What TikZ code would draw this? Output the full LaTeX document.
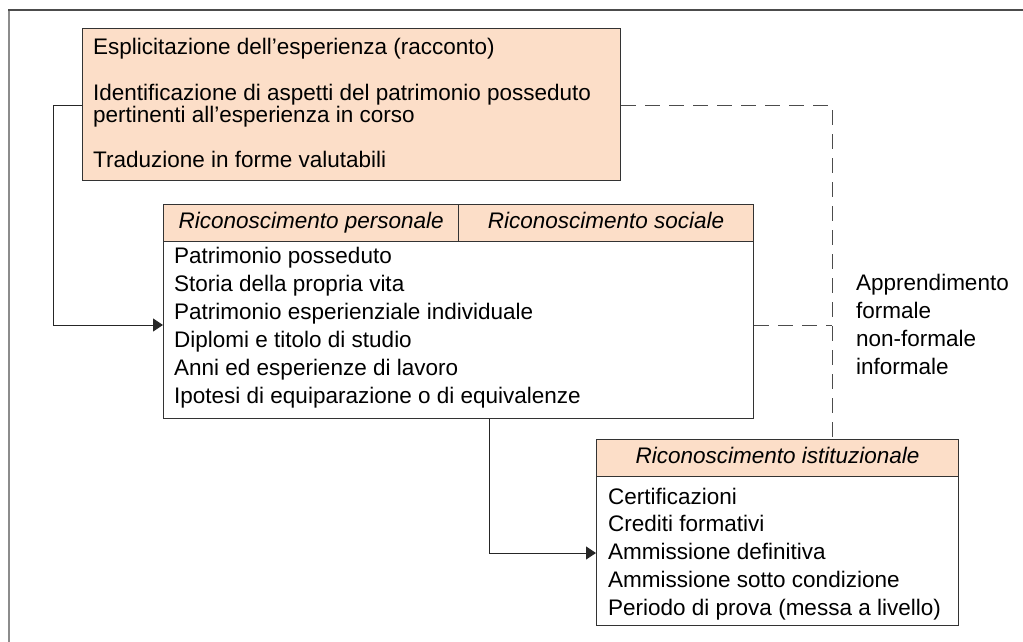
\documentclass[tikz,border=0pt]{standalone}
\usepackage{fontspec}
\setmainfont{Liberation Sans}
\usepackage{xcolor}
\usetikzlibrary{arrows.meta,calc,positioning}
\definecolor{peach}{RGB}{252,222,200}
\newcommand{\listfont}{\fontsize{22.5pt}{28pt}\selectfont}
\tikzset{
  boxfr/.style={draw=black!80, line width=1.2pt, inner sep=0pt, anchor=north west},
  hdrbox/.style={boxfr, fill=peach, anchor=north west, font=\listfont\itshape,
    text height=16pt, text depth=5pt},
  txt/.style={anchor=base west, inner sep=0pt, font=\listfont},
  link/.style={line width=1pt, draw=black!85},
  arr/.style={link, -{Triangle[length=10pt,width=13pt]}},
  dsh/.style={line width=1pt, draw=black!70, dash pattern=on 15pt off 9pt}
}

\begin{document}
\begin{tikzpicture}[x=1pt,y=-1pt]
  \useasboundingbox (0,0) rectangle (1023,641);
  % frame of the page
  \draw[black!45, line width=2.2pt] (9,642) -- (9,10);
  \draw[black!70, line width=2pt] (8,10) -- (1024,10);

  % boxes
  \node[boxfr, fill=peach, minimum width=538pt, minimum height=152pt] (espl) at (82,28) {};
  \node[hdrbox, minimum width=295pt, minimum height=37pt] (pers) at (163,204) {Riconoscimento personale};
  \node[hdrbox, minimum width=295pt, minimum height=37pt] (soc) at (458,204) {Riconoscimento sociale};
  \node[boxfr, minimum width=590pt, minimum height=177pt] (pmbody) at (163,241) {};
  \node[hdrbox, minimum width=362pt, minimum height=37pt] (ist) at (596,439) {Riconoscimento istituzionale};
  \node[boxfr, minimum width=362pt, minimum height=149pt] (istbody) at (596,476) {};

  % texts
  \node[txt] (e1) at (93,54) {Esplicitazione dell’esperienza (racconto)};
  \node[txt] (e2) at (93,100) {Identificazione di aspetti del patrimonio posseduto};
  \node[txt] (e3) at (93,122) {pertinenti all’esperienza in corso};
  \node[txt] (e4) at (93,167) {Traduzione in forme valutabili};
  \foreach \t [count=\i] in {Patrimonio posseduto, Storia della propria vita,
      Patrimonio esperienziale individuale, Diplomi e titolo di studio,
      Anni ed esperienze di lavoro, Ipotesi di equiparazione o di equivalenze}
    \node[txt] (pm\i) at (174,{263+28*(\i-1)}) {\t};
  \foreach \t [count=\i] in {Certificazioni, Crediti formativi, Ammissione definitiva,
      Ammissione sotto condizione, Periodo di prova (messa a livello)}
    \node[txt] (ist\i) at (608,{504+27.8*(\i-1)}) {\t};
  \foreach \t [count=\i] in {Apprendimento, formale, non-formale, informale}
    \node[txt] (ap\i) at (856,{290+28*(\i-1)}) {\t};

  % connectors
  \coordinate (ltop) at (53,105);
  \coordinate (lbot) at (53,325);
  \coordinate (mbot) at (489,553);
  \coordinate (dtop) at (832,105);
  \draw[arr] (espl.west |- ltop) -- (ltop) -- (lbot) -- (pmbody.west |- lbot);
  \draw[arr] (pmbody.south -| mbot) -- (mbot) -- (istbody.west |- mbot);
  \draw[dsh] (espl.east |- dtop) -- (dtop) -- (ist.north -| dtop);
  \draw[dsh] (pmbody.east |- lbot) -- (lbot -| dtop);
\end{tikzpicture}
\end{document}
